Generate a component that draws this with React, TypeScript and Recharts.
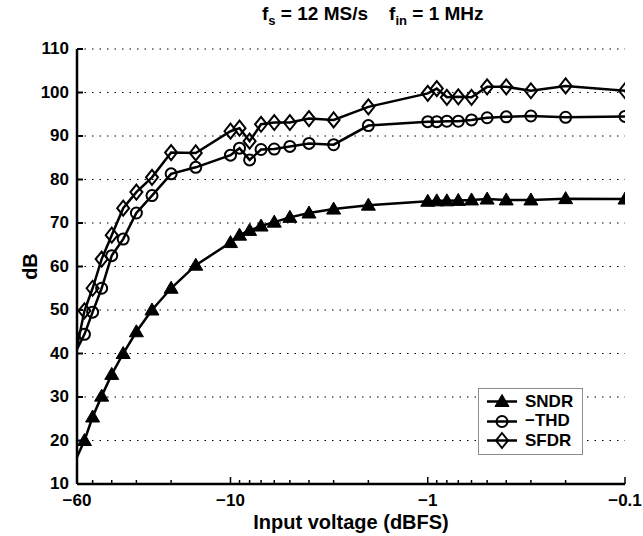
import { LineChart, Line, XAxis, YAxis, CartesianGrid, Legend, Label } from 'recharts'

// input level (dBFS) of each measured point
const inputDbfs = [
  -60, -55, -50, -45, -40, -35, -30, -25, -20, -15,
  -10, -9, -8, -7, -6, -5, -4, -3, -2,
  -1, -0.9, -0.8, -0.7, -0.6, -0.5, -0.4, -0.3, -0.2, -0.1,
]
const sndr = [
  16.2, 20, 25.4, 30.2, 35.2, 40, 45, 50, 55, 60.3,
  65.5, 67.2, 68.3, 69.3, 70.2, 71.3, 72.3, 73.2, 74.1,
  75.0, 75.1, 75.1, 75.2, 75.3, 75.5, 75.3, 75.3, 75.6, 75.5,
]
const thd = [
  41, 44.4, 49.5, 55, 62.5, 66.3, 72.3, 76.3, 81.3, 82.8,
  85.6, 87.2, 84.5, 86.9, 87, 87.6, 88.3, 88, 92.4,
  93.3, 93.3, 93.4, 93.4, 93.7, 94.2, 94.4, 94.6, 94.3, 94.5,
]
const sfdr = [
  41.5, 49.8, 55, 61.7, 67.2, 73.4, 77.1, 80.5, 86.2, 86.1,
  91.1, 91.8, 88.8, 92.7, 93.1, 93.1, 94.0, 93.7, 96.7,
  99.8, 100.9, 98.9, 99.0, 98.9, 101.3, 101.3, 100.4, 101.5, 100.4,
]

const xMajor = [-60, -10, -1, -0.1]
const xMajorLabels = ['\u221260', '\u221210', '\u22121', '\u22120.1']
const xMinor = [-50, -40, -30, -20, -9, -8, -7, -6, -5, -4, -3, -2, -0.9, -0.8, -0.7, -0.6, -0.5, -0.4, -0.3, -0.2]
const yTicks = [10, 20, 30, 40, 50, 60, 70, 80, 90, 100, 110]

const seriesNames = ['SNDR', '\u2212THD', 'SFDR']

// log axis of |dBFS|, reversed so -60 sits left
const toT = (v: number) => -Math.log10(-v)
const majorT = xMajor.map(toT)
const allT = [...majorT, ...xMinor.map(toT)]
const domainT: [number, number] = [toT(-60), toT(-0.1)]

const rows = inputDbfs.map((v, i) => ({ t: toT(v), sndr: sndr[i], thd: thd[i], sfdr: sfdr[i] }))

const FONT = '"Liberation Sans Narrow", "Liberation Sans", Arial, sans-serif'

function Marker({ kind, cx, cy }: { kind: string; cx: number; cy: number }) {
  if (kind === 'tri') {
    return <path d={`M${cx},${cy - 7} L${cx + 7},${cy + 5} L${cx - 7},${cy + 5} Z`} fill="#000" stroke="#000" strokeWidth={1} />
  }
  if (kind === 'circle') {
    return <circle cx={cx} cy={cy} r={5.5} fill="none" stroke="#000" strokeWidth={2} />
  }
  return <path d={`M${cx},${cy - 7.5} L${cx + 6},${cy} L${cx},${cy + 7.5} L${cx - 6},${cy} Z`} fill="none" stroke="#000" strokeWidth={2} />
}

const makeDot = (kind: string) => (props: any) => {
  const { cx, cy, index } = props
  if (index === 0 || cx == null || cy == null) return <g key={`${kind}-${index}`} />
  return <g key={`${kind}-${index}`}><Marker kind={kind} cx={cx} cy={cy} /></g>
}

const isMajor = (v: number) => majorT.findIndex((t) => Math.abs(t - v) < 1e-9)

function BottomTick(props: any) {
  const { x, y, payload } = props
  const idx = isMajor(payload.value)
  return (
    <g>
      <line x1={x} x2={x} y1={y} y2={y - (idx >= 0 ? 7 : 4)} stroke="#000" strokeWidth={1.5} />
      {idx >= 0 && (
        <text x={x} y={y + 22} textAnchor="middle" fontFamily={FONT} fontWeight="bold" fontSize={17} fill="#000">
          {xMajorLabels[idx]}
        </text>
      )}
    </g>
  )
}

function TopTick(props: any) {
  const { x, y, payload } = props
  const idx = isMajor(payload.value)
  return <line x1={x} x2={x} y1={y} y2={y + (idx >= 0 ? 7 : 4)} stroke="#000" strokeWidth={1.5} />
}

function LeftTick(props: any) {
  const { x, y, payload } = props
  return (
    <g>
      <line x1={x} x2={x + 6} y1={y} y2={y} stroke="#000" strokeWidth={2} />
      <text x={x - 8} y={y + 5} textAnchor="end" fontFamily={FONT} fontWeight="bold" fontSize={17} fill="#000">
        {payload.value}
      </text>
    </g>
  )
}

function RightTick(props: any) {
  const { x, y } = props
  return <line x1={x} x2={x - 6} y1={y} y2={y} stroke="#000" strokeWidth={2} />
}

const markerKinds = ['tri', 'circle', 'diamond']

function LegendBox() {
  return (
    <div style={{ border: '1px solid #8c8c8c', background: '#fff', width: 105, boxSizing: 'border-box', padding: '3px 0 3px' }}>
      {seriesNames.map((name, i) => (
        <div key={name} style={{ display: 'flex', alignItems: 'center', height: 19.5 }}>
          <svg width={46} height={19} style={{ display: 'block' }}>
            <line x1={8} x2={38} y1={9.5} y2={9.5} stroke="#000" strokeWidth={2.5} />
            <Marker kind={markerKinds[i]} cx={23} cy={9.5} />
          </svg>
          <span style={{ fontFamily: FONT, fontWeight: 'bold', fontSize: 17, color: '#000' }}>{name}</span>
        </div>
      ))}
    </div>
  )
}

export default function App() {
  return (
    <div style={{ position: 'absolute', left: 0, top: 0, width: 643, height: 536, background: '#fff' }}>
      <div
        style={{
          position: 'absolute', left: 262, top: 3, whiteSpace: 'nowrap',
          fontFamily: FONT, fontWeight: 'bold', fontSize: 19, color: '#000', lineHeight: '22px',
        }}
      >
        f<sub style={{ fontSize: 13 }}>s</sub> = 12 MS/s{'\u00a0\u00a0\u00a0\u00a0'}f<sub style={{ fontSize: 13 }}>in</sub> = 1 MHz
      </div>
      <LineChart width={643} height={536} data={rows} margin={{ top: 49, right: 18, bottom: 7, left: 0 }}>
        <CartesianGrid vertical={false} stroke="#000" strokeWidth={1} strokeDasharray="1.5 6" />
        <XAxis
          dataKey="t"
          type="number"
          domain={domainT}
          allowDataOverflow
          ticks={allT}
          interval={0}
          height={45}
          tickSize={0}
          tickMargin={0}
          tickLine={false}
          tick={<BottomTick />}
          axisLine={{ stroke: '#000', strokeWidth: 2.5 }}
        >
          <Label value="Input voltage (dBFS)" position="insideBottom" offset={0} style={{ fontFamily: FONT, fontWeight: 'bold', fontSize: 20, fill: '#000' }} />
        </XAxis>
        <XAxis
          xAxisId="top"
          orientation="top"
          dataKey="t"
          type="number"
          domain={domainT}
          allowDataOverflow
          ticks={allT}
          interval={0}
          height={0}
          tickSize={0}
          tickMargin={0}
          tickLine={false}
          tick={<TopTick />}
          axisLine={{ stroke: '#000', strokeWidth: 2.5 }}
        />
        <YAxis
          type="number"
          domain={[10, 110]}
          allowDataOverflow
          ticks={yTicks}
          interval={0}
          width={77}
          tickSize={0}
          tickMargin={0}
          tickLine={false}
          tick={<LeftTick />}
          axisLine={{ stroke: '#000', strokeWidth: 2.5 }}
        >
          <Label value="dB" angle={-90} position="insideLeft" offset={30} style={{ fontFamily: FONT, fontWeight: 'bold', fontSize: 20, fill: '#000', textAnchor: 'middle' }} />
        </YAxis>
        <YAxis
          yAxisId="right"
          orientation="right"
          type="number"
          domain={[10, 110]}
          allowDataOverflow
          ticks={yTicks}
          interval={0}
          width={0}
          tickSize={0}
          tickMargin={0}
          tickLine={false}
          tick={<RightTick />}
          axisLine={{ stroke: '#000', strokeWidth: 2.5 }}
        />
        <Line dataKey="sndr" name={seriesNames[0]} stroke="#000" strokeWidth={2.5} dot={makeDot('tri')} activeDot={false} isAnimationActive={false} />
        <Line dataKey="thd" name={seriesNames[1]} stroke="#000" strokeWidth={2.5} dot={makeDot('circle')} activeDot={false} isAnimationActive={false} />
        <Line dataKey="sfdr" name={seriesNames[2]} stroke="#000" strokeWidth={2.5} dot={makeDot('diamond')} activeDot={false} isAnimationActive={false} />
        <Legend
          layout="vertical"
          align="center"
          verticalAlign="middle"
          content={<LegendBox />}
          wrapperStyle={{ left: 478, top: 388, width: 105 }}
        />
      </LineChart>
    </div>
  )
}
